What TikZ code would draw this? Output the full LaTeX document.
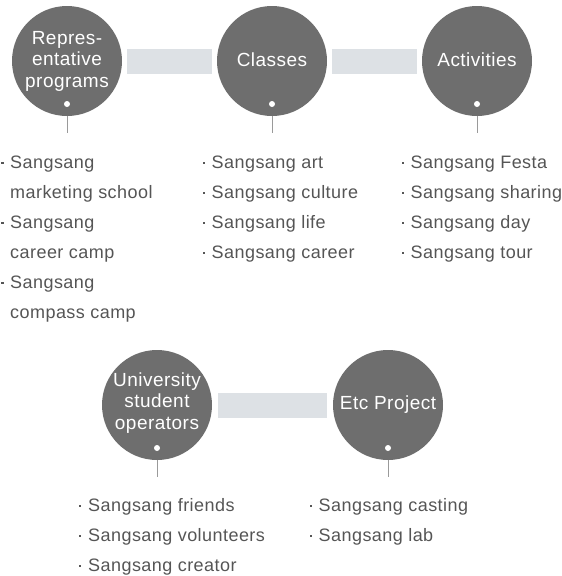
\documentclass[tikz,border=0pt]{standalone}
\usepackage{fontspec}
\setmainfont{Liberation Sans}[LetterSpace=2.5]
\definecolor{circ}{HTML}{6E6E6E}
\definecolor{barc}{HTML}{DDE1E5}
\definecolor{txt}{HTML}{555555}
\definecolor{stemc}{HTML}{9A9A9A}
\begin{document}
\begin{tikzpicture}[x=1pt,y=-1pt,
  bubble/.style={circle, fill=circ, minimum size=110pt, inner sep=0pt},
  blabel/.style={text=white, font=\fontsize{19}{21.5}\selectfont, align=center, inner sep=0pt},
  bar/.style={barc, line width=25pt, shorten <=5pt, shorten >=5pt},
  stem/.style={stemc, line width=0.8pt},
  wdot/.style={circle, fill=white, minimum size=6pt, inner sep=0pt},
  item/.style={anchor=base west, text=txt, font=\fontsize{18}{21}\selectfont, inner sep=0pt},
  bul/.style={fill=txt, minimum size=2.4pt, inner sep=0pt, rectangle}]
\useasboundingbox (0,0) rectangle (562,576);

% top row
\node[bubble] (c1) at (67,61) {};
\node[bubble] (c2) at (272,61) {};
\node[bubble] (c3) at (477,61) {};
\draw[bar] (c1) -- (c2);
\draw[bar] (c2) -- (c3);
\node[blabel] (l1) at (67,61) {Repres-\\entative\\programs};
\node[blabel] (l2) at (272,60) {Classes};
\node[blabel] (l3) at (477,60) {Activities};
\node[wdot] (d1) at (67,104) {};
\node[wdot] (d2) at (272,104) {};
\node[wdot] (d3) at (477,104) {};
\coordinate (s1) at (67,133);
\coordinate (s2) at (272,133);
\coordinate (s3) at (477,133);
\draw[stem] (c1.south) -- (s1);
\draw[stem] (c2.south) -- (s2);
\draw[stem] (c3.south) -- (s3);

% bottom row
\node[bubble] (c4) at (157,405) {};
\node[bubble] (c5) at (388,405) {};
\draw[bar, shorten <=6pt, shorten >=6pt] (c4) -- (c5);
\node[blabel] (l4) at (157,403) {University\\student\\operators};
\node[blabel] (l5) at (388,405) {Etc Project};
\node[wdot] (d4) at (157,448) {};
\node[wdot] (d5) at (388,448) {};
\coordinate (s4) at (157,477);
\coordinate (s5) at (388,477);
\draw[stem] (c4.south) -- (s4);
\draw[stem] (c5.south) -- (s5);

% column 1
\node[bul] (b11) at (2.5,163) {};
\node[item] (t11) at (10,168) {Sangsang};
\node[item] (t12) at (10,198) {marketing school};
\node[bul] (b13) at (2.5,223) {};
\node[item] (t13) at (10,228) {Sangsang};
\node[item] (t14) at (10,258) {career camp};
\node[bul] (b15) at (2.5,283) {};
\node[item] (t15) at (10,288) {Sangsang};
\node[item] (t16) at (10,318) {compass camp};

% column 2
\node[bul] (b21) at (204,163) {};
\node[item] (t21) at (211.5,168) {Sangsang art};
\node[bul] (b22) at (204,193) {};
\node[item] (t22) at (211.5,198) {Sangsang culture};
\node[bul] (b23) at (204,223) {};
\node[item] (t23) at (211.5,228) {Sangsang life};
\node[bul] (b24) at (204,253) {};
\node[item] (t24) at (211.5,258) {Sangsang career};

% column 3
\node[bul] (b31) at (403,163) {};
\node[item] (t31) at (410.5,168) {Sangsang Festa};
\node[bul] (b32) at (403,193) {};
\node[item] (t32) at (410.5,198) {Sangsang sharing};
\node[bul] (b33) at (403,223) {};
\node[item] (t33) at (410.5,228) {Sangsang day};
\node[bul] (b34) at (403,253) {};
\node[item] (t34) at (410.5,258) {Sangsang tour};

% column 4
\node[bul] (b41) at (80,506) {};
\node[item] (t41) at (88,511) {Sangsang friends};
\node[bul] (b42) at (80,536) {};
\node[item] (t42) at (88,541) {Sangsang volunteers};
\node[bul] (b43) at (80,566) {};
\node[item] (t43) at (88,571) {Sangsang creator};

% column 5
\node[bul] (b51) at (311,506) {};
\node[item] (t51) at (318.5,511) {Sangsang casting};
\node[bul] (b52) at (311,536) {};
\node[item] (t52) at (318.5,541) {Sangsang lab};
\end{tikzpicture}
\end{document}
